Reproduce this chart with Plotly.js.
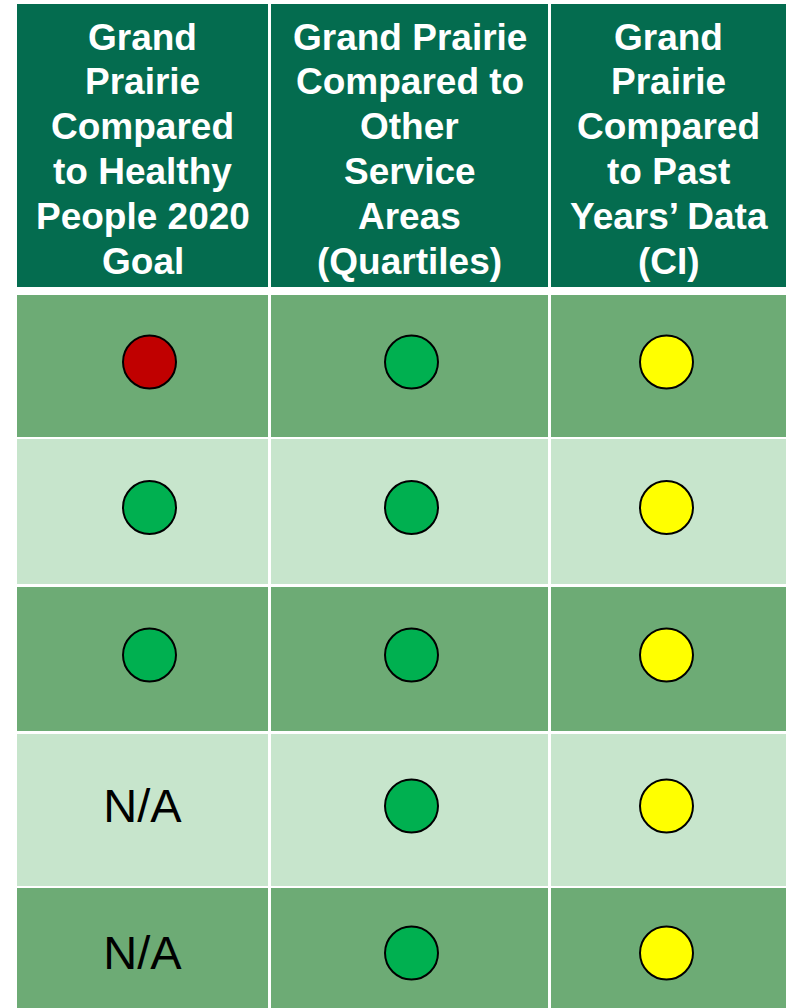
<!DOCTYPE html>
<html>
<head>
<meta charset="utf-8">
<script src="https://cdn.plot.ly/plotly-3.0.1.min.js"></script>
<style>html,body{margin:0;padding:0;background:#fff;}#chart{width:786px;height:1008px;}</style>
</head>
<body>
<div id="chart"></div>
<script>
// ---- data ----
const headers = [
  ['Grand', 'Prairie', 'Compared', 'to Healthy', 'People 2020', 'Goal'],
  ['Grand Prairie', 'Compared to', 'Other', 'Service', 'Areas', '(Quartiles)'],
  ['Grand', 'Prairie', 'Compared', 'to Past', 'Years’ Data', '(CI)']
];
const healthyPeopleGoal = ['red', 'green', 'green', 'N/A', 'N/A'];
const otherServiceAreas = ['green', 'green', 'green', 'green', 'green'];
const pastYearsData = ['yellow', 'yellow', 'yellow', 'yellow', 'yellow'];
const columnsData = [healthyPeopleGoal, otherServiceAreas, pastYearsData];

// ---- styles / geometry ----
const statusColor = {red: '#C00000', green: '#00B050', yellow: '#FFFF00'};
const headerColor = '#046C4F';
const rowColors = ['#6DAB75', '#C7E5CC'];
const colEdges = [[17, 268], [271, 548], [551, 786]];
const headerBand = [4, 287];
const headerFirstLine = 37;
const headerLineStep = 44.8;
const rowBands = [[295, 437], [439, 584], [587, 731], [734, 886], [888, 1026]];
const markerDy = -4;
const markerDx = [7, 2, -2];

const shapes = [];
const annotations = [];
colEdges.forEach((c, ci) => {
  shapes.push({type: 'rect', xref: 'x', yref: 'y', x0: c[0], x1: c[1], y0: headerBand[0], y1: headerBand[1],
    fillcolor: headerColor, line: {width: 0}, layer: 'below'});
  headers[ci].forEach((line, li) => {
    annotations.push({xref: 'x', yref: 'y', x: (c[0] + c[1]) / 2, y: headerFirstLine + li * headerLineStep,
      text: line, showarrow: false, xanchor: 'center', yanchor: 'middle', align: 'center',
      font: {family: 'Liberation Sans, Arial, sans-serif', size: 37, color: '#FFFFFF', weight: 'bold'}});
  });
  rowBands.forEach((r, ri) => {
    shapes.push({type: 'rect', xref: 'x', yref: 'y', x0: c[0], x1: c[1], y0: r[0], y1: r[1],
      fillcolor: rowColors[ri % 2], line: {width: 0}, layer: 'below'});
  });
});

const traces = [];
columnsData.forEach((col, ci) => {
  const cx = (colEdges[ci][0] + colEdges[ci][1]) / 2;
  const mx = [], my = [], mc = [], tx = [], ty = [], tt = [];
  col.forEach((v, ri) => {
    const cy = (rowBands[ri][0] + rowBands[ri][1]) / 2;
    if (statusColor[v]) { mx.push(cx + markerDx[ci]); my.push(cy + markerDy); mc.push(statusColor[v]); }
    else { tx.push(cx); ty.push(cy); tt.push(v); }
  });
  traces.push({type: 'scatter', mode: 'markers', x: mx, y: my, hoverinfo: 'skip',
    marker: {symbol: 'circle', size: 53, color: mc, line: {color: '#000000', width: 2}}});
  if (tt.length) traces.push({type: 'scatter', mode: 'text', x: tx, y: ty, text: tt, hoverinfo: 'skip',
    textposition: 'middle center', textfont: {family: 'Liberation Sans, Arial, sans-serif', size: 47, color: '#000000'}});
});

const layout = {
  width: 786, height: 1008,
  margin: {l: 0, r: 0, t: 0, b: 0, pad: 0},
  paper_bgcolor: '#FFFFFF', plot_bgcolor: '#FFFFFF',
  showlegend: false,
  xaxis: {range: [0, 786], visible: false, fixedrange: true},
  yaxis: {range: [1008, 0], visible: false, fixedrange: true},
  shapes: shapes, annotations: annotations
};
Plotly.newPlot('chart', traces, layout, {displayModeBar: false, staticPlot: true});
</script>
</body>
</html>
